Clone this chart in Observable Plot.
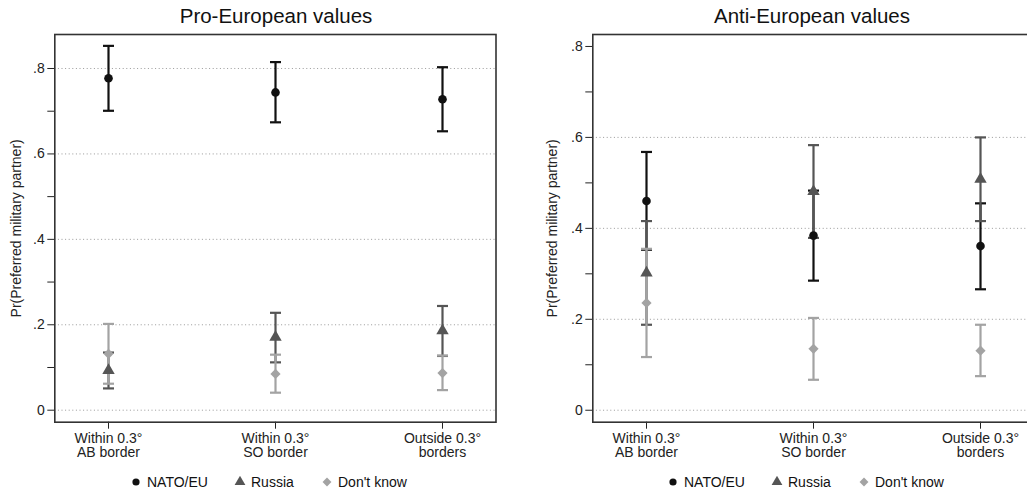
<!DOCTYPE html>
<html>
<head>
<meta charset="utf-8">
<script src="https://cdn.jsdelivr.net/npm/d3@7"></script>
<script src="https://cdn.jsdelivr.net/npm/@observablehq/plot@0.6"></script>
<style>
  html, body { margin: 0; padding: 0; background: #fff; width: 1027px; height: 491px; overflow: hidden; }
  #root { position: relative; width: 1027px; height: 491px; overflow: hidden; font-family: "Liberation Sans", Arial, sans-serif; color: #222; }
  .panel { position: absolute; top: 0; width: 510px; height: 470px; }
  .panel svg { max-width: none !important; width: 510px !important; height: 470px !important; }
  .title { position: absolute; top: 4px; font-size: 20.5px; white-space: nowrap; transform: translateX(-50%); color: #111; }
  .legend { position: absolute; top: 474px; font-size: 14px; white-space: nowrap; color: #111; }
  .legend span.item { position: absolute; display: flex; align-items: center; }
  .legend svg { margin-right: 5px; }
</style>
</head>
<body>
<div id="root"></div>
<script>
// ---------- data ----------
const categories = ["Within 0.3°\nAB border", "Within 0.3°\nSO border", "Outside 0.3°\nborders"];
const series = ["NATO/EU", "Russia", "Don't know"];
const seriesColors = ["#111111", "#555555", "#a3a3a3"];
const seriesSymbols = ["circle", "triangle", "diamond2"];
const panelTitles = ["Pro-European values", "Anti-European values"];
const yLabel = "Pr(Preferred military partner)";
const yMajorTicks = [0, 0.2, 0.4, 0.6, 0.8];
const yMinorTicks = [0.1, 0.3, 0.5, 0.7];
const proGridTicks = [0, 0.2, 0.4, 0.6, 0.8];
const antiGridTicks = [0, 0.2, 0.4, 0.6];

// Pro-European values
const proNatoEst = [0.777, 0.744, 0.728];
const proNatoLo  = [0.701, 0.674, 0.653];
const proNatoHi  = [0.853, 0.815, 0.803];
const proRussiaEst = [0.093, 0.171, 0.186];
const proRussiaLo  = [0.051, 0.112, 0.127];
const proRussiaHi  = [0.135, 0.228, 0.244];
const proDkEst = [0.132, 0.085, 0.087];
const proDkLo  = [0.062, 0.041, 0.047];
const proDkHi  = [0.202, 0.130, 0.128];

// Anti-European values
const antiNatoEst = [0.460, 0.384, 0.361];
const antiNatoLo  = [0.353, 0.285, 0.266];
const antiNatoHi  = [0.568, 0.483, 0.455];
const antiRussiaEst = [0.302, 0.481, 0.508];
const antiRussiaLo  = [0.188, 0.379, 0.416];
const antiRussiaHi  = [0.416, 0.583, 0.600];
const antiDkEst = [0.236, 0.135, 0.131];
const antiDkLo  = [0.117, 0.067, 0.075];
const antiDkHi  = [0.355, 0.203, 0.188];

// ---------- drawing ----------
const capSymbol = {
  draw(context, size) {
    const w = Math.sqrt(size / Math.PI);
    context.moveTo(-w, 0);
    context.lineTo(w, 0);
  }
};
const fmt = d => d === 0 ? "0" : d3.format(".1f")(d).replace(/^0/, "");

function makePanel(est, lo, hi, yDomain, gridTicks, labelOffset) {
  const marks = [];
  marks.push(Plot.gridY(gridTicks, {stroke: "#777", strokeOpacity: 0.75, strokeDasharray: "1,2.6", strokeWidth: 1}));
  const rowsBySeries = series.map((s, si) => categories.map((c, ci) => ({
    series: s, cat: c, est: est[si][ci], lo: lo[si][ci], hi: hi[si][ci]
  })));
  rowsBySeries.forEach((rows, si) => {
    const col = seriesColors[si];
    marks.push(Plot.ruleX(rows, {x: "cat", y1: "lo", y2: "hi", stroke: col, strokeWidth: 2.2}));
    marks.push(Plot.dot(rows, {x: "cat", y: "lo", symbol: capSymbol, r: 5.5, stroke: col, strokeWidth: 2.2, fill: "none"}));
    marks.push(Plot.dot(rows, {x: "cat", y: "hi", symbol: capSymbol, r: 5.5, stroke: col, strokeWidth: 2.2, fill: "none"}));
  });
  rowsBySeries.forEach((rows, si) => {
    const col = seriesColors[si];
    marks.push(Plot.dot(rows, {x: "cat", y: "est", symbol: seriesSymbols[si], r: si === 0 ? 4.3 : 4.6, fill: col, stroke: "none"}));
  });
  marks.push(Plot.axisY({ticks: yMajorTicks, tickSize: 7, tickPadding: 3, tickFormat: fmt,
    label: yLabel, labelAnchor: "center", labelArrow: "none", labelOffset}));
  marks.push(Plot.axisY({ticks: yMinorTicks, tickSize: 7, tickFormat: () => "", label: null}));
  marks.push(Plot.axisX({tickSize: 7, tickPadding: 4, label: null}));
  marks.push(Plot.frame({stroke: "#333", strokeWidth: 1.6}));
  return Plot.plot({
    width: 510,
    height: 470,
    marginTop: 34,
    marginBottom: 48.3,
    marginLeft: 55.3,
    marginRight: 13.5,
    x: {type: "point", domain: categories, padding: 0.32},
    y: {domain: yDomain},
    style: {fontSize: "14px", fontFamily: "'Liberation Sans', Arial, sans-serif", color: "#222", background: "transparent", overflow: "visible", maxWidth: "none"},
    marks
  });
}

const root = document.getElementById("root");

function addPanel(svg, left) {
  const d = document.createElement("div");
  d.className = "panel";
  d.style.left = left + "px";
  d.appendChild(svg);
  root.appendChild(d);
}

addPanel(makePanel(
  [proNatoEst, proRussiaEst, proDkEst],
  [proNatoLo, proRussiaLo, proDkLo],
  [proNatoHi, proRussiaHi, proDkHi],
  [-0.0281, 0.8796], proGridTicks, 44), -0.6);

addPanel(makePanel(
  [antiNatoEst, antiRussiaEst, antiDkEst],
  [antiNatoLo, antiRussiaLo, antiDkLo],
  [antiNatoHi, antiRussiaHi, antiDkHi],
  [-0.0263, 0.8263], antiGridTicks, 46), 537);

// titles
[[panelTitles[0], 276], [panelTitles[1], 812]].forEach(([t, cx]) => {
  const d = document.createElement("div");
  d.className = "title";
  d.style.left = cx + "px";
  d.textContent = t;
  root.appendChild(d);
});

// legends
function symbolSvg(si) {
  const ns = "http://www.w3.org/2000/svg";
  const s = document.createElementNS(ns, "svg");
  s.setAttribute("width", 12); s.setAttribute("height", 12);
  s.setAttribute("viewBox", "-6 -6 12 12");
  const p = document.createElementNS(ns, "path");
  const type = [d3.symbolCircle, d3.symbolTriangle, d3.symbolDiamond2][si];
  const size = [Math.PI * 3.6 * 3.6, Math.PI * 4 * 4, Math.PI * 4 * 4][si];
  p.setAttribute("d", d3.symbol(type, size)());
  p.setAttribute("fill", seriesColors[si]);
  s.appendChild(p);
  return s;
}
const legendOffsets = [0, 104, 191];
[130, 667].forEach(x0 => {
  const lg = document.createElement("div");
  lg.className = "legend";
  lg.style.left = x0 + "px";
  series.forEach((s, si) => {
    const it = document.createElement("span");
    it.className = "item";
    it.style.left = legendOffsets[si] + "px";
    it.appendChild(symbolSvg(si));
    const tx = document.createElement("span");
    tx.textContent = s;
    it.appendChild(tx);
    lg.appendChild(it);
  });
  root.appendChild(lg);
});
</script>
</body>
</html>
